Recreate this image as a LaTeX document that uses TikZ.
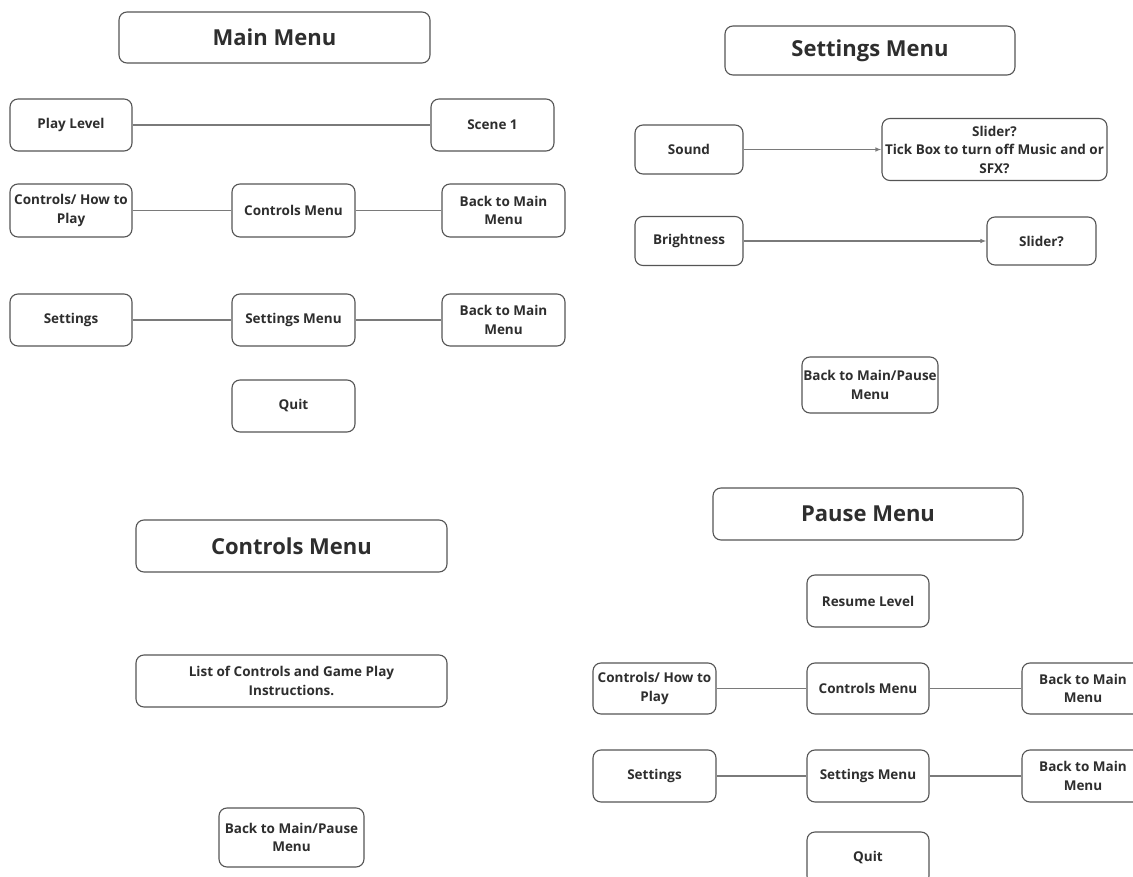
\documentclass[tikz,border=0pt]{standalone}
\usepackage{fontspec}
\setmainfont{Open Sans}
\usetikzlibrary{arrows.meta}
\definecolor{txt}{HTML}{2E2E2E}
\definecolor{bord}{HTML}{555555}
\definecolor{conn}{HTML}{7A7A7A}
\tikzset{
  box/.style={draw=bord, line width=1.1pt, rounded corners=8pt, fill=white,
    text=txt, align=center, inner sep=1pt,
    font=\fontsize{13.5}{18.5}\selectfont\bfseries},
  titlebox/.style={box, font=\fontsize{22}{26}\selectfont\bfseries},
  conline/.style={draw=conn, line width=1.1pt},
  conarrow/.style={conline, -{Latex[length=6pt,width=4.5pt]}}
}
\begin{document}
\begin{tikzpicture}[x=1pt,y=-1pt]
\useasboundingbox (0,0) rectangle (1133,877);
\clip (0,0) rectangle (1133,877);
% ---------- Main Menu ----------
\node[titlebox, minimum width=311, minimum height=51] (mTitle) at (274.5,37.5) {Main Menu};
\node[box, minimum width=122, minimum height=52] (mPlay) at (71,125) {Play Level};
\node[box, minimum width=123, minimum height=52] (mScene) at (492.5,125) {Scene 1};
\node[box, minimum width=122, minimum height=53] (mCtrl) at (71,210.5) {Controls/ How to\\Play};
\node[box, minimum width=123, minimum height=53] (mCtrlMenu) at (293.5,210.5) {Controls Menu};
\node[box, minimum width=123, minimum height=53] (mBackA) at (503.5,210.5) {Back to Main\\Menu};
\node[box, minimum width=122, minimum height=52] (mSet) at (71,320) {Settings};
\node[box, minimum width=123, minimum height=52] (mSetMenu) at (293.5,320) {Settings Menu};
\node[box, minimum width=123, minimum height=52] (mBackB) at (503.5,320) {Back to Main\\Menu};
\node[box, minimum width=123, minimum height=52] (mQuit) at (293.5,406) {Quit};
\draw[conline] (mPlay) -- (mScene);
\draw[conline] (mCtrl) -- (mCtrlMenu);
\draw[conline] (mCtrlMenu) -- (mBackA);
\draw[conline] (mSet) -- (mSetMenu);
\draw[conline] (mSetMenu) -- (mBackB);
% ---------- Settings Menu ----------
\node[titlebox, minimum width=290, minimum height=49] (sTitle) at (870,50.5) {Settings Menu};
\node[box, minimum width=108, minimum height=49] (sSound) at (689,149.5) {Sound};
\node[box, minimum width=225, minimum height=62] (sSliderA) at (994.5,149.5) {Slider?\\Tick Box to turn off Music and or\\SFX?};
\node[box, minimum width=108, minimum height=49] (sBright) at (689,241) {Brightness};
\node[box, minimum width=109, minimum height=48] (sSliderB) at (1041.5,241) {Slider?};
\node[box, minimum width=136, minimum height=56] (sBack) at (870,385) {Back to Main/Pause\\Menu};
\draw[conarrow] (sSound.east) -- (sSliderA.west);
\draw[conarrow] (sBright.east) -- (sSliderB.west);
% ---------- Controls Menu ----------
\node[titlebox, minimum width=311, minimum height=52] (cTitle) at (291.5,546) {Controls Menu};
\node[box, minimum width=311, minimum height=52] (cList) at (291.5,681) {List of Controls and Game Play\\Instructions.};
\node[box, minimum width=145, minimum height=59] (cBack) at (291.5,837.5) {Back to Main/Pause\\Menu};
% ---------- Pause Menu ----------
\node[titlebox, minimum width=310, minimum height=52] (pTitle) at (868,514) {Pause Menu};
\node[box, minimum width=122, minimum height=52] (pResume) at (868,601) {Resume Level};
\node[box, minimum width=123, minimum height=51] (pCtrl) at (654.5,688.5) {Controls/ How to\\Play};
\node[box, minimum width=122, minimum height=51] (pCtrlMenu) at (868,688.5) {Controls Menu};
\node[box, minimum width=122, minimum height=51] (pBackA) at (1083,688.5) {Back to Main\\Menu};
\node[box, minimum width=123, minimum height=52] (pSet) at (654.5,776) {Settings};
\node[box, minimum width=122, minimum height=52] (pSetMenu) at (868,776) {Settings Menu};
\node[box, minimum width=122, minimum height=52] (pBackB) at (1083,776) {Back to Main\\Menu};
\node[box, minimum width=122, minimum height=52] (pQuit) at (868,858) {Quit};
\draw[conline] (pCtrl) -- (pCtrlMenu);
\draw[conline] (pCtrlMenu) -- (pBackA);
\draw[conline] (pSet) -- (pSetMenu);
\draw[conline] (pSetMenu) -- (pBackB);
\end{tikzpicture}
\end{document}
